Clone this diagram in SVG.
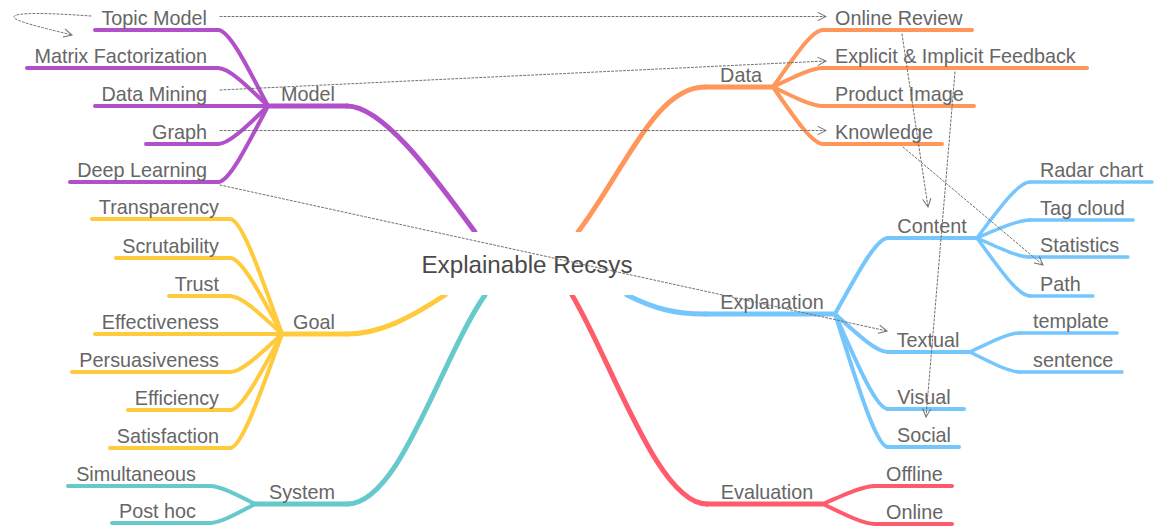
<svg xmlns="http://www.w3.org/2000/svg" width="1155" height="529" viewBox="0 0 1155 529">
<defs>
<style>
text{font-family:"Liberation Sans",Arial,sans-serif;font-size:19.8px;fill:#666}
.c{text-anchor:middle}.e{text-anchor:end}.s{text-anchor:start}
path,line{fill:none;stroke-linecap:round}
.m{stroke-width:5}.l2{stroke-width:4}.l3{stroke-width:3.5}
.pu{stroke:#B150C8}.or{stroke:#FF965A}.ye{stroke:#FFCB3C}.te{stroke:#66C9CB}.rd{stroke:#FF5B6B}.bl{stroke:#74C6FD}
.rel{stroke:#707070;stroke-width:1;stroke-dasharray:2 2;fill:none}
</style>
<marker id="arr" markerUnits="userSpaceOnUse" markerWidth="12" markerHeight="12" refX="9" refY="5" orient="auto">
<path d="M1,1 L9,5 L1,9" stroke="#707070" stroke-width="1" fill="none" stroke-linecap="butt"/>
</marker>
</defs>
<rect width="1155" height="529" fill="#fff"/>

<g id="edges">
<path class="m pu" d="M475,232 C440,185 385,106 347,106"/>
<path class="m or" d="M578,232 C625,170 655,87 705,87"/>
<path class="m bl" d="M627,295 C655,309 675,314 705,314"/>
<path class="m rd" d="M572,295 C612,362 658,504 707,504"/>
<path class="m ye" d="M445,295 C410,318 380,334 347,334"/>
<path class="m te" d="M485,295 C440,360 400,504 347,504"/>
<path class="l2 pu" d="M268,106 C244.3,60.4 228.5,30 218,30"/>
<path class="l2 pu" d="M268,106 C244.3,83.2 228.5,68 218,68"/>
<path class="l2 pu" d="M268,106 C244.3,128.8 228.5,144 218,144"/>
<path class="l2 pu" d="M268,106 C244.3,151.6 228.5,182 218,182"/>
<path class="l2 ye" d="M282,334 C257.4,265 240.9,219 230,219"/>
<path class="l2 ye" d="M282,334 C257.4,288.4 240.9,258 230,258"/>
<path class="l2 ye" d="M282,334 C257.4,311.2 240.9,296 230,296"/>
<path class="l2 ye" d="M282,334 C257.4,356.8 240.9,372 230,372"/>
<path class="l2 ye" d="M282,334 C257.4,379.6 240.9,410 230,410"/>
<path class="l2 ye" d="M282,334 C257.4,402.4 240.9,448 230,448"/>
<path class="l2 te" d="M255,504 C233.7,493.2 219.4,486 210,486"/>
<path class="l2 te" d="M255,504 C233.7,515.4 219.4,523 210,523"/>
<path class="l2 or" d="M773,87 C796.7,52.8 812.5,30 823,30"/>
<path class="l2 or" d="M773,87 C796.7,75.6 812.5,68 823,68"/>
<path class="l2 or" d="M773,87 C796.7,98.4 812.5,106 823,106"/>
<path class="l2 or" d="M773,87 C796.7,121.2 812.5,144 823,144"/>
<path class="l2 bl" d="M835,314 C860.1,268.4 876.9,238 888,238"/>
<path class="l2 bl" d="M835,314 C860.1,336.8 876.9,352 888,352"/>
<path class="l2 bl" d="M835,314 C860.1,371 876.9,409 888,409"/>
<path class="l2 bl" d="M835,314 C860.1,393.8 876.9,447 888,447"/>
<path class="l3 bl" d="M977,238 C1002.1,204.4 1018.9,182 1030,182"/>
<path class="l3 bl" d="M977,238 C1002.1,227.2 1018.9,220 1030,220"/>
<path class="l3 bl" d="M977,238 C1002.1,249.4 1018.9,257 1030,257"/>
<path class="l3 bl" d="M977,238 C1002.1,272.8 1018.9,296 1030,296"/>
<path class="l3 bl" d="M970,352 C993.7,340.6 1009.5,333 1020,333"/>
<path class="l3 bl" d="M970,352 C993.7,364 1009.5,372 1020,372"/>
<path class="l2 rd" d="M823,504 C847.6,493.2 864.1,486 875,486"/>
<path class="l2 rd" d="M823,504 C847.6,516 864.1,524 875,524"/>
</g>

<g id="center">
<rect x="405" y="232" width="245" height="63" fill="#fff"/>
<text x="527" y="273" class="c" style="font-size:24.2px;fill:#4a4a4a">Explainable Recsys</text>
</g>

<g id="model"><line class="m pu" x1="268" y1="106" x2="347" y2="106"/><text x="308" y="101" class="c">Model</text></g>
<g id="topic-model"><line class="l2 pu" x1="95" y1="30" x2="218" y2="30"/><text x="207" y="25" class="e">Topic Model</text></g>
<g id="matrix-factorization"><line class="l2 pu" x1="27" y1="68" x2="218" y2="68"/><text x="207" y="63" class="e">Matrix Factorization</text></g>
<g id="data-mining"><line class="l2 pu" x1="95" y1="106" x2="268" y2="106"/><text x="207" y="101" class="e">Data Mining</text></g>
<g id="graph"><line class="l2 pu" x1="146" y1="144" x2="218" y2="144"/><text x="207" y="139" class="e">Graph</text></g>
<g id="deep-learning"><line class="l2 pu" x1="70" y1="182" x2="218" y2="182"/><text x="207" y="177" class="e">Deep Learning</text></g>

<g id="goal"><line class="m ye" x1="282" y1="334" x2="347" y2="334"/><text x="314" y="329" class="c">Goal</text></g>
<g id="transparency"><line class="l2 ye" x1="92" y1="219" x2="230" y2="219"/><text x="219" y="214" class="e">Transparency</text></g>
<g id="scrutability"><line class="l2 ye" x1="116" y1="258" x2="230" y2="258"/><text x="219" y="253" class="e">Scrutability</text></g>
<g id="trust"><line class="l2 ye" x1="169" y1="296" x2="230" y2="296"/><text x="219" y="291" class="e">Trust</text></g>
<g id="effectiveness"><line class="l2 ye" x1="95" y1="334" x2="282" y2="334"/><text x="219" y="329" class="e">Effectiveness</text></g>
<g id="persuasiveness"><line class="l2 ye" x1="72" y1="372" x2="230" y2="372"/><text x="219" y="367" class="e">Persuasiveness</text></g>
<g id="efficiency"><line class="l2 ye" x1="128" y1="410" x2="230" y2="410"/><text x="219" y="405" class="e">Efficiency</text></g>
<g id="satisfaction"><line class="l2 ye" x1="110" y1="448" x2="230" y2="448"/><text x="219" y="443" class="e">Satisfaction</text></g>

<g id="system"><line class="m te" x1="255" y1="504" x2="347" y2="504"/><text x="302" y="499" class="c">System</text></g>
<g id="simultaneous"><line class="l2 te" x1="68" y1="486" x2="210" y2="486"/><text x="196" y="481" class="e">Simultaneous</text></g>
<g id="post-hoc"><line class="l2 te" x1="112" y1="523" x2="210" y2="523"/><text x="196" y="518" class="e">Post hoc</text></g>

<g id="data"><line class="m or" x1="705" y1="87" x2="773" y2="87"/><text x="741" y="82" class="c">Data</text></g>
<g id="online-review"><line class="l2 or" x1="823" y1="30" x2="972" y2="30"/><text x="835" y="25" class="s">Online Review</text></g>
<g id="explicit-implicit-feedback"><line class="l2 or" x1="823" y1="68" x2="1087" y2="68"/><text x="835" y="63" class="s">Explicit &amp; Implicit Feedback</text></g>
<g id="product-image"><line class="l2 or" x1="823" y1="106" x2="974" y2="106"/><text x="835" y="101" class="s">Product Image</text></g>
<g id="knowledge"><line class="l2 or" x1="823" y1="144" x2="942" y2="144"/><text x="835" y="139" class="s">Knowledge</text></g>

<g id="explanation"><line class="m bl" x1="705" y1="314" x2="835" y2="314"/><text x="772" y="309" class="c">Explanation</text></g>
<g id="content"><line class="l2 bl" x1="888" y1="238" x2="977" y2="238"/><text x="932" y="233" class="c">Content</text></g>
<g id="radar-chart"><line class="l3 bl" x1="1030" y1="182" x2="1152" y2="182"/><text x="1040" y="177" class="s">Radar chart</text></g>
<g id="tag-cloud"><line class="l3 bl" x1="1030" y1="220" x2="1133" y2="220"/><text x="1040" y="215" class="s">Tag cloud</text></g>
<g id="statistics"><line class="l3 bl" x1="1030" y1="257" x2="1128" y2="257"/><text x="1040" y="252" class="s">Statistics</text></g>
<g id="path"><line class="l3 bl" x1="1030" y1="296" x2="1093" y2="296"/><text x="1040" y="291" class="s">Path</text></g>
<g id="textual"><line class="l2 bl" x1="888" y1="352" x2="970" y2="352"/><text x="928" y="347" class="c">Textual</text></g>
<g id="template"><line class="l3 bl" x1="1020" y1="333" x2="1117" y2="333"/><text x="1033" y="328" class="s">template</text></g>
<g id="sentence"><line class="l3 bl" x1="1020" y1="372" x2="1122" y2="372"/><text x="1033" y="367" class="s">sentence</text></g>
<g id="visual"><line class="l2 bl" x1="888" y1="409" x2="964" y2="409"/><text x="924" y="404" class="c">Visual</text></g>
<g id="social"><line class="l2 bl" x1="888" y1="447" x2="959" y2="447"/><text x="924" y="442" class="c">Social</text></g>

<g id="evaluation"><line class="m rd" x1="707" y1="504" x2="823" y2="504"/><text x="767" y="499" class="c">Evaluation</text></g>
<g id="offline"><line class="l2 rd" x1="875" y1="486" x2="952" y2="486"/><text x="886" y="481" class="s">Offline</text></g>
<g id="online"><line class="l2 rd" x1="875" y1="524" x2="952" y2="524"/><text x="886" y="519" class="s">Online</text></g>

<g id="connectors">
<path class="rel" marker-end="url(#arr)" d="M91,16 C50,13 14,12 14,17 C14,21 40,27 72,35"/>
<path class="rel" marker-end="url(#arr)" d="M220,16.5 L826,16.5"/>
<path class="rel" marker-end="url(#arr)" d="M220,90 L826,61"/>
<path class="rel" marker-end="url(#arr)" d="M220,130.5 L826,130.5"/>
<path class="rel" marker-end="url(#arr)" d="M220,185 L887,331"/>
<path class="rel" marker-end="url(#arr)" d="M902,34 L928,207"/>
<path class="rel" marker-end="url(#arr)" d="M955,72 L926,417"/>
<path class="rel" marker-end="url(#arr)" d="M903,147 L1043,265"/>
</g>
</svg>
